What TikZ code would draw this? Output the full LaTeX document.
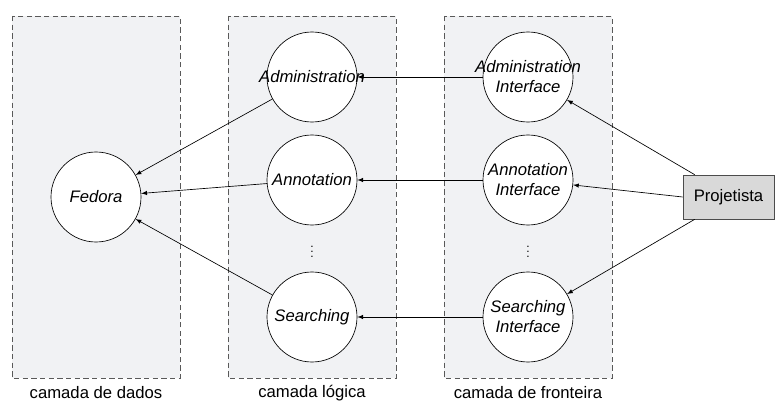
\documentclass[tikz,border=0pt]{standalone}
\usepackage{fontspec}
\setmainfont{Liberation Sans}
\usetikzlibrary{positioning}
\definecolor{painel}{RGB}{241,242,244}
\definecolor{caixa}{RGB}{217,217,217}
\begin{document}
\fontsize{12.5}{15}\selectfont
\begin{tikzpicture}[x=0.75pt,y=-0.75pt]

		\tikzstyle{camada}=[draw=black!65,fill=painel,semithick,dash pattern=on 4pt off 2.5pt]
		\tikzstyle{processo}=[circle,draw=black,fill=white,semithin,
			minimum size=67.5pt,inner sep=0pt,node distance=162pt]
		\tikzstyle{nome}=[font=\itshape,align=center]
		\tikzstyle{ator}=[rectangle,draw=black!70,fill=caixa,semithin,
			minimum height=33pt,minimum width=68.25pt]
		\tikzstyle{semithin}=[line width=0.5pt]

		\useasboundingbox (0,0) rectangle (775,406);

		% camadas
		\draw[camada] (12,16) rectangle (180,378);
		\draw[camada] (228,16) rectangle (396,378);
		\draw[camada] (444,16) rectangle (612,378);
		\node (dados)	at (96,393)	{camada de dados};
		\node (logica)	at (312,393)	{camada lógica};
		\node (fronteira)	at (528,393)	{camada de fronteira};

		\node[processo,label={[nome]center:Fedora}]	(fedora)	at (96,197)	{};
		\node[processo,label={[nome]center:Administration}]	(admin)	at (312,77)	{};
		\node[processo,label={[nome]center:Annotation}]	(annot)	at (312,180)	{};
		\node[processo,label={[nome]center:Searching}]	(search)	at (312,317)	{};
		\node[font=\small]	(pontosl)	at (312,248)	{$\vdots$};

		\node[processo,right of=admin,label={[nome]center:Administration\\Interface}]	(adminif)	{};
		\node[processo,right of=annot,label={[nome]center:Annotation\\Interface}]	(annotif)	{};
		\node[processo,right of=search,label={[nome]center:Searching\\Interface}]	(searchif)	{};
		\node[font=\small]	(pontosf)	at (528,248)	{$\vdots$};

		\node[ator]	(proj)	at (728.5,197)	{Projetista};

		\draw[->,>=latex,semithin] (adminif) -- (admin);
		\draw[->,>=latex,semithin] (annotif) -- (annot);
		\draw[->,>=latex,semithin] (searchif) -- (search);

		\draw[->,>=latex,semithin] (admin) -- (fedora);
		\draw[->,>=latex,semithin] (annot) -- (fedora);
		\draw[->,>=latex,semithin] (search) -- (fedora);

		\draw[->,>=latex,semithin] ([xshift=9pt]proj.north west) -- (adminif);
		\draw[->,>=latex,semithin] (proj.west) -- (annotif);
		\draw[->,>=latex,semithin] ([xshift=9pt]proj.south west) -- (searchif);

	\end{tikzpicture}
\end{document}
